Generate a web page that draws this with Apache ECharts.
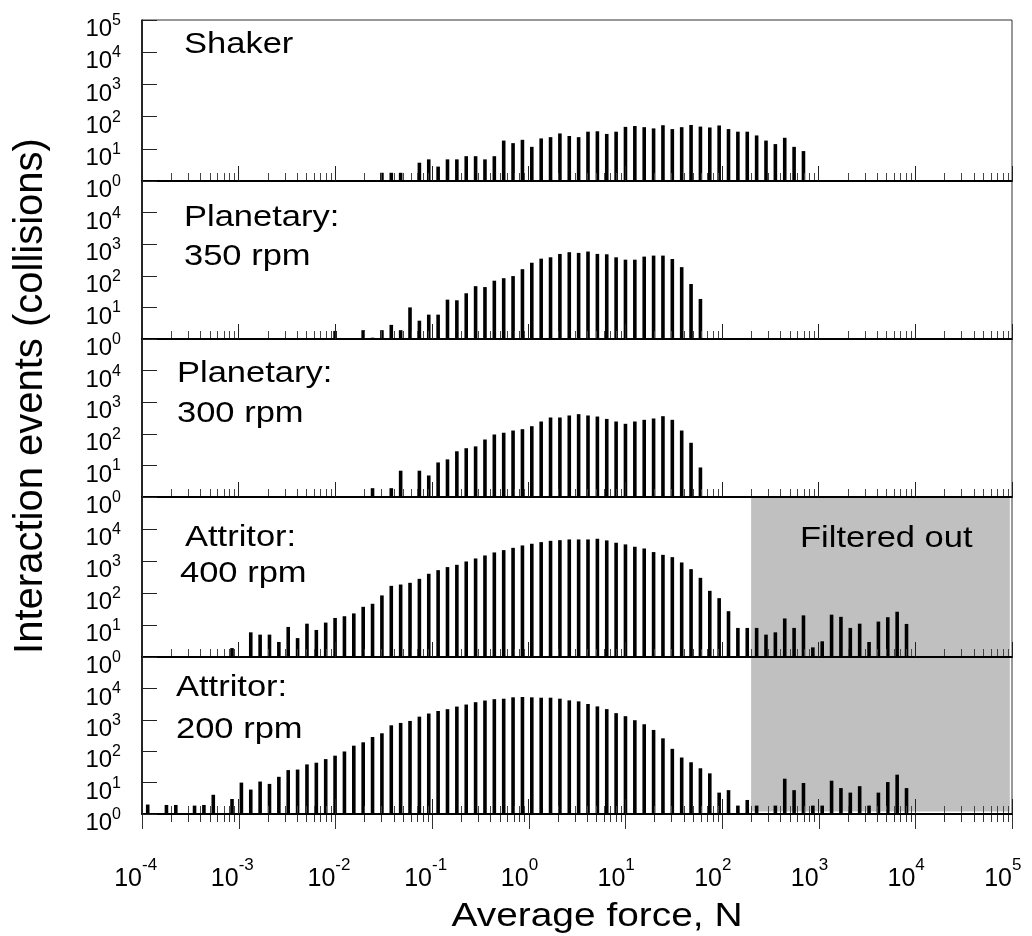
<!DOCTYPE html>
<html>
<head>
<meta charset="utf-8">
<script src="https://cdn.jsdelivr.net/npm/echarts@6/dist/echarts.min.js"></script>
<style>
html,body{margin:0;padding:0;background:#fff;}
#chart{width:1032px;height:936px;}
</style>
</head>
<body>
<div id="chart"></div>
<script>
// ---------- DATA ----------
// Histogram bin centres (average force, N)
const forceBins = [
  1.146e-4, 1.432e-4, 1.790e-4, 2.237e-4, 2.797e-4, 3.496e-4, 4.370e-4, 5.462e-4, 6.828e-4, 8.535e-4,
  1.067e-3, 1.334e-3, 1.667e-3, 2.084e-3, 2.605e-3, 3.256e-3, 4.070e-3, 5.088e-3, 6.360e-3, 7.950e-3,
  9.937e-3, 1.242e-2, 1.553e-2, 1.941e-2, 2.426e-2, 3.033e-2, 3.791e-2, 4.739e-2, 5.923e-2, 7.404e-2,
  9.255e-2, 0.1157, 0.1446, 0.1808, 0.2260, 0.2825, 0.3531, 0.4413, 0.5517, 0.6896,
  0.8620, 1.0775, 1.347, 1.684, 2.104, 2.631, 3.288, 4.110, 5.138, 6.422,
  8.028, 10.03, 12.54, 15.68, 19.60, 24.50, 30.62, 38.28, 47.85, 59.81,
  74.76, 93.45, 116.8, 146.0, 182.5, 228.2, 285.2, 356.5, 445.6, 557.0,
  696.3, 870.3, 1088, 1360, 1700, 2125, 2656, 3320, 4150, 5188,
  6485, 8106
];

// Interaction events per bin (0 = no bar)
const shaker = [
  0,0,0,0,0,0,0,0,0,0,
  0,0,0,0,0,0,0,0,0,0,
  0,0,0,0,0,1.8,1.8,1.8,0,3.7,
  4.7,2.8,4.7,4.7,5.9,5.9,4.7,5.9,18,15,
  19,11.5,21,23,30,25,23,34,35,29,
  34,48,51,47,43,54,41,47,55,49,
  46,53,41,34,34,26,18,14,22,11.5,
  8.5,0,0,0,0,0,0,0,0,0,
  0,0
];
const planetary350 = [
  0,0,0,0,0,0,0,0,0,0,
  0,0,0,0,0,0,0,0,0,0,
  1.8,0,0,1.9,1.1,1.9,2.8,1.9,10,3.8,
  5.9,5.9,17.6,16.8,28,47,44,70,84,98,
  162,259,349,385,492,558,531,586,493,480,
  385,324,324,405,436,436,340,188,55,18.5,
  0,0,0,0,0,0,0,0,0,0,
  0,0,0,0,0,0,0,0,0,0,
  0,0
];
const planetary300 = [
  0,0,0,0,0,0,0,0,0,0,
  0,0,0,0,0,0,0,0,0,0,
  0,0,0,0,1.9,0,1.9,6.8,0,6.8,
  4.8,12.4,15.5,28,35,40,66,95,108,127,
  140,174,245,328,328,380,419,380,352,296,
  245,207,245,277,305,361,277,127,52,8.6,
  0,0,0,0,0,0,0,0,0,0,
  0,0,0,0,0,0,0,0,0,0,
  0,0
];
const attritor400 = [
  0,0,0,0,0,0,0,0,0,1.9,
  0,5.9,5.0,5.0,2.95,8.7,3.9,11,7,11.9,
  16.6,18.8,23,37,46,84,167,184,208,277,
  399,518,645,760,966,1200,1490,1850,2190,2580,
  3060,3460,3890,4270,4480,4720,4720,4720,4960,4400,
  3720,3300,2790,2460,1900,1560,1320,900,556,298,
  117,69,27,8.1,8.1,8.1,5,5.9,16,8.1,
  20,2,3.1,21,18,8.1,11,2.95,12.8,17.5,
  26,10.8
];
const attritor200 = [
  2.0,0,1.94,1.94,0,1.85,1.94,4.1,0,3.0,
  10,6.0,10.8,9.1,15.3,25,26,38,43,56,
  72,98,150,192,283,372,668,795,920,1260,
  1585,1910,2180,2640,3060,3640,4110,4540,4700,5200,
  5320,5190,5060,5060,4700,4160,3860,3180,2670,2190,
  1630,1305,970,722,475,257,119,63,44.5,28.6,
  19.7,4.8,5.75,1.85,2.8,1.85,0,1.85,13.3,5.75,
  9.7,1.85,1.85,11.5,6.7,4.8,7.7,1.85,4.8,10.4,
  17.9,6.7
];

const panelSeries = [shaker, planetary350, planetary300, attritor400, attritor200];
const panelLabels = [
  ['Shaker'],
  ['Planetary:', '350 rpm'],
  ['Planetary:', '300 rpm'],
  ['Attritor:', '400 rpm'],
  ['Attritor:', '200 rpm']
];

// axis ranges / ticks
const xMin = 1e-4, xMax = 1e5;
const yMin = 1, yMax = 1e5;
const xDecadeExponents = [-4,-3,-2,-1,0,1,2,3,4,5];
const minorMultipliers = [2,3,4,5,6,7,8,9];

// filtered-out region (force range, N) and the panels it covers
const filteredRange = [200, 9.5e4];
const filteredPanels = [3, 4];
const filteredYRanges = [[1, 1e5], [1.2, 1e5]];
const filteredText = 'Filtered out';

const xTitle = 'Average force, N';
const yTitle = 'Interaction events (collisions)';

// ---------- LAYOUT ----------
const FONT = '"Liberation Sans", Arial, Helvetica, sans-serif';
const plotLeft = 142, plotWidth = 870;
const panelTops = [20, 181, 339, 497, 657];
const panelHeights = [161, 158, 158, 160, 157];
const labelPos = [
  [[184, 45]],
  [[184, 218], [184, 257]],
  [[177, 374], [177, 414]],
  [[185, 538], [180, 574]],
  [[176, 688], [176, 730]]
];

const minorTickValues = [];
xDecadeExponents.slice(0, -1).forEach(e => {
  minorMultipliers.forEach(m => minorTickValues.push(m * Math.pow(10, e)));
});
const majorTickValues = xDecadeExponents.map(e => Math.pow(10, e));

function expOf(v) { return Math.round(Math.log10(v)); }

const grids = [], xAxes = [], yAxes = [], series = [], graphics = [];

for (let i = 0; i < 5; i++) {
  const last = i === 4;
  grids.push({
    left: plotLeft, width: plotWidth, top: panelTops[i], height: panelHeights[i],
    show: true, borderColor: '#333', borderWidth: 1, backgroundColor: 'transparent',
    containLabel: false, outerBoundsMode: 'none'
  });
  xAxes.push({
    type: 'log', logBase: 10, gridIndex: i, min: xMin, max: xMax, position: 'bottom', z: 6,
    axisLine: { show: true, onZero: false, lineStyle: { color: '#000', width: 2 } },
    axisTick: { show: true, inside: true, length: 15, lineStyle: { color: '#222', width: 1 } },
    minorTick: { show: false }, splitLine: { show: false }, minorSplitLine: { show: false },
    axisLabel: {
      show: last, margin: 43, verticalAlign: 'top', align: 'center',
      showMinLabel: true, showMaxLabel: true,
      formatter: function (v) {
        const s = String(expOf(v));
        return '{hs|' + s + '}{b|10}{s|' + s + '}{hb|10}';
      },
      rich: {
        b: { fontSize: 25, fontFamily: FONT, color: '#000', lineHeight: 35, verticalAlign: 'bottom' },
        hb: { fontSize: 25, fontFamily: FONT, color: 'rgba(0,0,0,0)', lineHeight: 35, verticalAlign: 'bottom' },
        s: { fontSize: 17, fontFamily: FONT, color: '#000', lineHeight: 17, verticalAlign: 'top' },
        hs: { fontSize: 17, fontFamily: FONT, color: 'rgba(0,0,0,0)', lineHeight: 17, verticalAlign: 'top' }
      }
    }
  });
  yAxes.push({
    type: 'log', logBase: 10, gridIndex: i, min: yMin, max: yMax, z: 6,
    axisLine: { show: true, onZero: false, lineStyle: { color: '#000', width: 1.5 } },
    axisTick: { show: true, inside: true, length: 15, lineStyle: { color: '#222', width: 1 } },
    minorTick: { show: false }, splitLine: { show: false },
    axisLabel: {
      show: true, margin: 21, align: 'right', verticalAlign: 'middle',
      padding: [14, 0, 0, 0],
      showMaxLabel: i === 0, showMinLabel: true,
      formatter: function (v) { return '{b|10}{s|' + expOf(v) + '}'; },
      rich: {
        b: { fontSize: 24, fontFamily: FONT, color: '#000', lineHeight: 29, verticalAlign: 'bottom' },
        s: { fontSize: 16, fontFamily: FONT, color: '#000', lineHeight: 16, verticalAlign: 'top' }
      }
    }
  });

  // filtered-out grey area
  const fIdx = filteredPanels.indexOf(i);
  if (fIdx >= 0) {
    const yr = filteredYRanges[fIdx];
    series.push({
      type: 'custom', coordinateSystem: 'cartesian2d', xAxisIndex: i, yAxisIndex: i, z: 1,
      silent: true, clip: false,
      data: [[filteredRange[0], yr[0], filteredRange[1], yr[1]]],
      renderItem: function (params, api) {
        const p0 = api.coord([api.value(0), api.value(1)]);
        const p1 = api.coord([api.value(2), api.value(3)]);
        return {
          type: 'rect',
          shape: { x: p0[0], y: p1[1], width: p1[0] - p0[0], height: p0[1] - p1[1] },
          style: { fill: '#c0c0c0' }
        };
      }
    });
  }

  // bars
  const vals = panelSeries[i];
  series.push({
    type: 'custom', coordinateSystem: 'cartesian2d', xAxisIndex: i, yAxisIndex: i, z: 3,
    silent: true, clip: false,
    data: forceBins.map((f, k) => [f, vals[k]]).filter(d => d[1] > 1),
    renderItem: function (params, api) {
      const p0 = api.coord([api.value(0), yMin]);
      const p1 = api.coord([api.value(0), api.value(1)]);
      const w = 3.6;
      return {
        type: 'rect',
        shape: { x: p0[0] - w / 2, y: p1[1], width: w, height: p0[1] - p1[1] },
        style: { fill: '#000' }
      };
    }
  });

  // minor x ticks (inside)
  series.push({
    type: 'custom', coordinateSystem: 'cartesian2d', xAxisIndex: i, yAxisIndex: i, z: 4,
    silent: true, clip: false,
    data: minorTickValues.map(v => [v, yMin]),
    renderItem: function (params, api) {
      const p = api.coord([api.value(0), yMin]);
      const x = Math.round(p[0]) + 0.5;
      return { type: 'line', shape: { x1: x, y1: p[1], x2: x, y2: p[1] - 8 },
               style: { stroke: '#444', lineWidth: 1 } };
    }
  });

  // outside ticks on the bottom panel
  if (last) {
    series.push({
      type: 'custom', coordinateSystem: 'cartesian2d', xAxisIndex: i, yAxisIndex: i, z: 4,
      silent: true, clip: false,
      data: majorTickValues.map(v => [v, yMin, 15]).concat(minorTickValues.map(v => [v, yMin, 8])),
      renderItem: function (params, api) {
        const p = api.coord([api.value(0), yMin]);
        const x = Math.round(p[0]) + 0.5;
        return { type: 'line', shape: { x1: x, y1: p[1], x2: x, y2: p[1] + api.value(2) },
                 style: { stroke: '#333', lineWidth: 1 } };
      }
    });
  }

  // panel labels
  panelLabels[i].forEach((t, j) => {
    graphics.push({
      type: 'text', x: labelPos[i][j][0], y: labelPos[i][j][1], scaleX: 1.15, z: 20,
      style: { text: t, fontSize: 30, fontFamily: FONT, fill: '#000',
               align: 'left', verticalAlign: 'middle', textAlign: 'left', textVerticalAlign: 'middle' }
    });
  });
}

graphics.push({
  type: 'text', x: 800, y: 539, scaleX: 1.15, z: 20,
  style: { text: filteredText, fontSize: 30, fontFamily: FONT, fill: '#000',
           align: 'left', verticalAlign: 'middle', textAlign: 'left', textVerticalAlign: 'middle' }
});
graphics.push({
  type: 'text', x: 597, y: 917, scaleX: 1.16, z: 20,
  style: { text: xTitle, fontSize: 33.5, fontFamily: FONT, fill: '#000',
           align: 'center', verticalAlign: 'middle', textAlign: 'center', textVerticalAlign: 'middle' }
});
graphics.push({
  type: 'text', x: 31, y: 396, rotation: Math.PI / 2, z: 20,
  style: { text: yTitle, fontSize: 40, fontFamily: FONT, fill: '#000',
           align: 'center', verticalAlign: 'middle', textAlign: 'center', textVerticalAlign: 'middle' }
});

const chart = echarts.init(document.getElementById('chart'), null, { renderer: 'canvas' });
chart.setOption({
  animation: false,
  backgroundColor: '#fff',
  grid: grids,
  xAxis: xAxes,
  yAxis: yAxes,
  series: series,
  graphic: { elements: graphics }
});
</script>
</body>
</html>
